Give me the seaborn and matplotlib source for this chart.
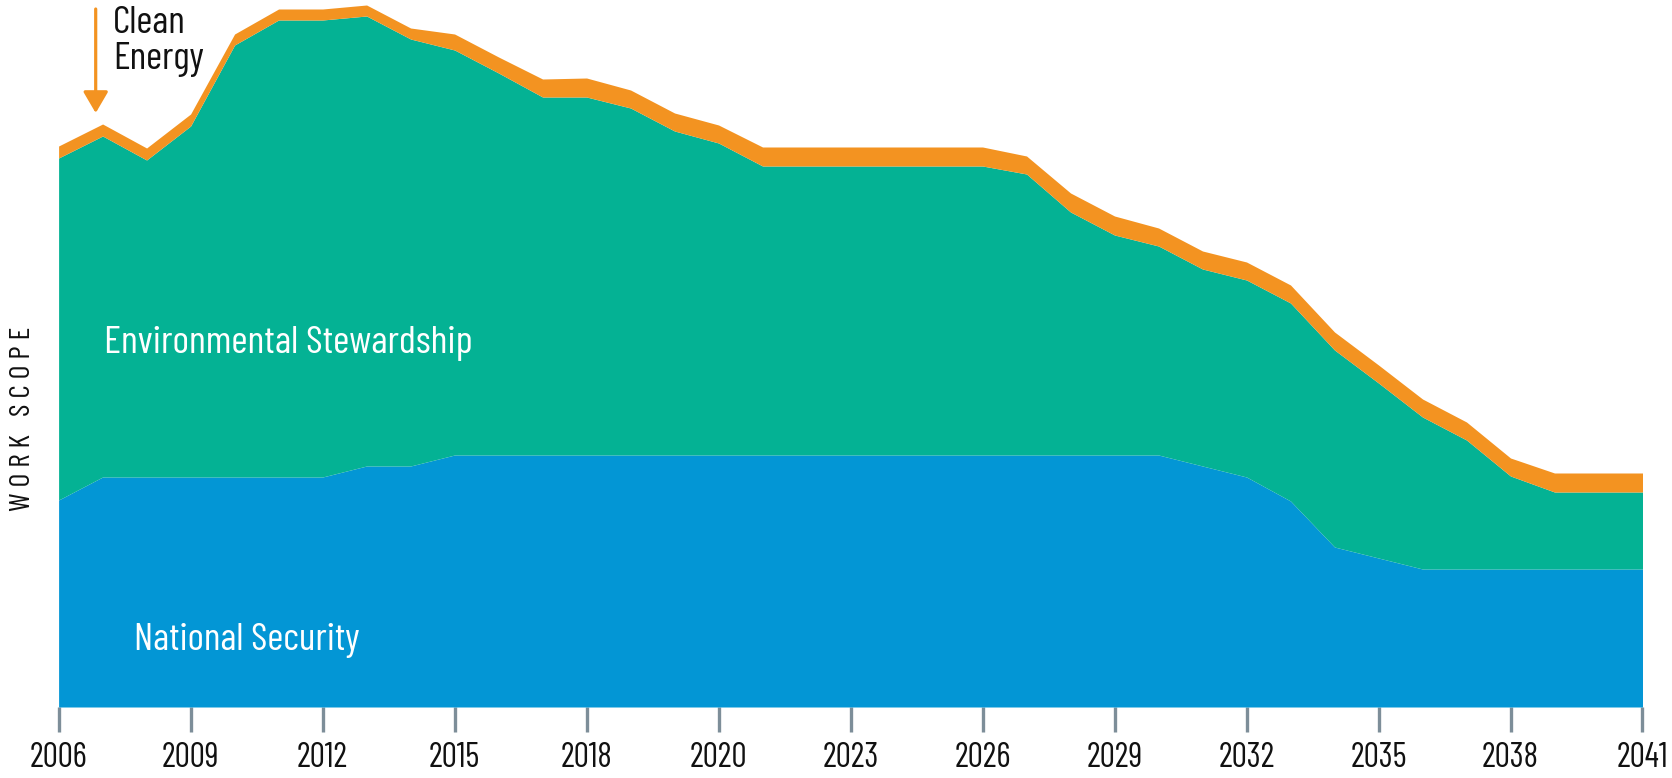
import numpy as np
import pandas as pd
import matplotlib
matplotlib.use("Agg")
import matplotlib.pyplot as plt
import seaborn as sns

# ---- data (arbitrary "work scope" units) ----
tick_labels = ["2006", "2009", "2012", "2015", "2018", "2020", "2023",
               "2026", "2029", "2032", "2035", "2038", "2041"]

national_security = [207, 230, 230, 230, 230, 230, 230, 241, 241, 252,
                     252, 252, 252, 252, 252, 252, 252, 252, 252, 252,
                     252, 252, 252, 252, 252, 252, 241, 230, 206, 160,
                     149, 138, 138, 138, 138, 138, 138]
environmental = [342, 341, 317, 351, 432, 457, 457, 450, 427, 405,
                 382, 358, 358, 347, 324, 312, 289, 289, 289, 289,
                 289, 289, 281, 243, 220, 209, 197, 197, 198, 197,
                 175, 152, 129, 93, 77, 77, 77]
clean_energy = [12, 12, 12, 12, 11, 11, 11, 11, 11, 16,
                16, 18, 19, 18, 18, 18, 19, 19, 19, 19,
                19, 19, 18, 19, 19, 18, 18, 18, 18, 18,
                18, 18, 18, 18, 19, 19, 19]

series_names = ["National Security", "Environmental Stewardship", "Clean Energy"]
colors = ["#0396D5", "#04B294", "#F39321"]

df = pd.DataFrame({
    "idx": np.arange(len(national_security)),
    "National Security": national_security,
    "Environmental Stewardship": environmental,
    "Clean Energy": clean_energy,
})

sns.set_theme(style="white")
plt.rcParams["font.family"] = ["Barlow Condensed", "DejaVu Sans"]
plt.rcParams["font.weight"] = "normal"

W, H = 1672, 778
fig = plt.figure(figsize=(W / 100, H / 100), dpi=100)
left, right_px = 58.6, 1642.5
base_px = 707
ax = fig.add_axes([left / W, (H - base_px) / H, (right_px - left) / W, base_px / H])

ax.stackplot(df["idx"], df["National Security"], df["Environmental Stewardship"],
             df["Clean Energy"], colors=colors, linewidth=0, antialiased=True)

n = len(df) - 1
ax.set_xlim(0, n)
ax.set_ylim(0, base_px)
ax.set_xticks(np.arange(0, n + 1, 3))
ax.set_xticklabels(tick_labels)
ax.set_yticks([])
ax.tick_params(axis="x", direction="out", length=18, width=2.4,
               color="#7D8E99", pad=7, labelsize=24.5, labelcolor="#111111",
               bottom=True)
sns.despine(ax=ax, left=True, bottom=True)
for s in ax.spines.values():
    s.set_visible(False)
ax.grid(False)
ax.set_facecolor("none")

px = 44.0  # pixels per index step (approx)

def dx(xp):
    return (xp - left) / px

def dy(yp):
    return base_px - yp

ax.text(dx(134), dy(650), "National Security", color="white", fontsize=28,
        ha="left", va="baseline")
ax.text(dx(104), dy(353), "Environmental Stewardship", color="white",
        fontsize=28.5, ha="left", va="baseline")
ax.text(dx(113), dy(6), "Clean\nEnergy", color="#111111", fontsize=28,
        ha="left", va="top", linespacing=1.05)

ax.annotate("", xy=(dx(95.7), dy(113)), xytext=(dx(95.7), dy(9)),
            arrowprops=dict(arrowstyle="-|>,head_length=0.65,head_width=0.38",
                            lw=2.3, color="#F39321", shrinkA=0, shrinkB=0,
                            mutation_scale=20),
            annotation_clip=False)

fig.text(23 / W, 1 - 419 / H, "W O R K   S C O P E", rotation=90, ha="center",
         va="center", fontsize=21.5, color="#111111")

fig.savefig("out.png", dpi=100, facecolor="white")
